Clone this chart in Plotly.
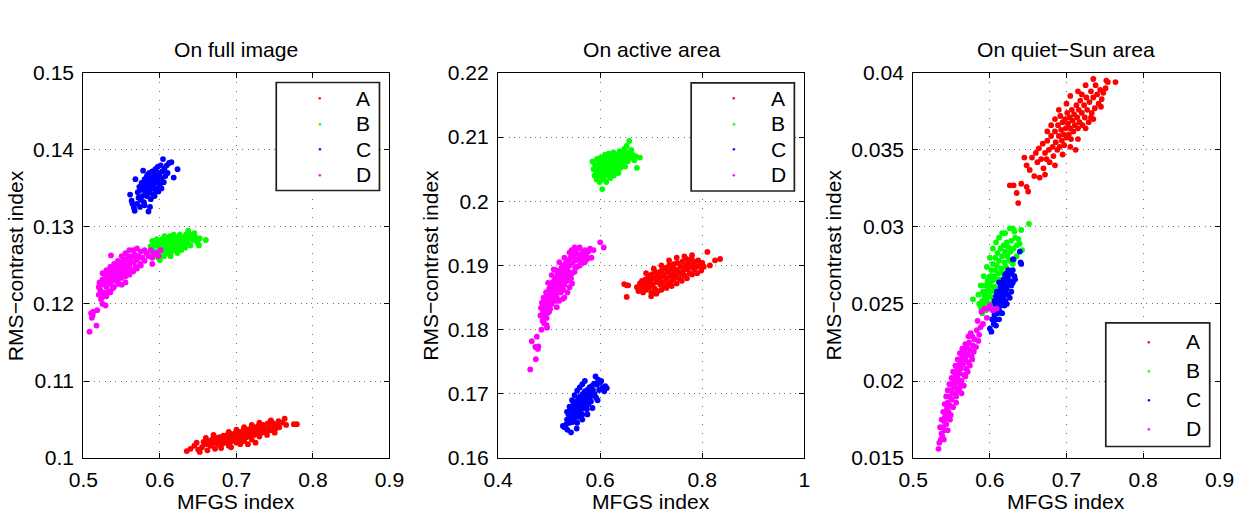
import plotly.graph_objects as go

# ---------------- data ----------------
series_names = ["A", "B", "C", "D"]
series_colors = ["#ff0000", "#00ff00", "#0000ff", "#ff00ff"]
panel_titles = ["On full image", "On active area", "On quiet\u2212Sun area"]
x_label = "MFGS index"
y_label = "RMS\u2212contrast index"

# Panel 1: on full image
full_A = [(0.635,0.1009),(0.640,0.1012),(0.645,0.1016),(0.648,0.1020),(0.650,0.1011),(0.652,0.1008),(0.655,0.1014),(0.657,0.1021),(0.660,0.1018),(0.662,0.1010),(0.664,0.1022),(0.666,0.1016),(0.668,0.1024),(0.670,0.1019),(0.672,0.1012),(0.673,0.1026),(0.675,0.1021),(0.677,0.1017),(0.678,0.1027),(0.680,0.1023),(0.682,0.1019),(0.683,0.1029),(0.685,0.1024),(0.687,0.1020),(0.688,0.1030),(0.690,0.1025),(0.692,0.1021),(0.693,0.1014),(0.694,0.1031),(0.696,0.1026),(0.698,0.1022),(0.699,0.1033),(0.701,0.1028),(0.703,0.1024),(0.704,0.1034),(0.706,0.1029),(0.708,0.1025),(0.709,0.1036),(0.711,0.1031),(0.713,0.1027),(0.714,0.1037),(0.716,0.1032),(0.718,0.1028),(0.719,0.1039),(0.721,0.1034),(0.723,0.1030),(0.724,0.1040),(0.726,0.1035),(0.728,0.1031),(0.729,0.1042),(0.731,0.1037),(0.733,0.1033),(0.735,0.1043),(0.737,0.1038),(0.739,0.1034),(0.741,0.1045),(0.743,0.1040),(0.745,0.1036),(0.747,0.1046),(0.749,0.1041),(0.751,0.1038),(0.753,0.1044),(0.756,0.1040),(0.760,0.1046),(0.763,0.1051),(0.765,0.1043),(0.775,0.1044),(0.779,0.1044),(0.705,0.1018),
          (0.680,0.1013),(0.690,0.1016),(0.700,0.1020),(0.710,0.1022),(0.720,0.1024),(0.730,0.1028),(0.740,0.1030),(0.750,0.1033),(0.690,0.1034),(0.700,0.1037),(0.710,0.1040),(0.720,0.1043),(0.730,0.1046),(0.745,0.1049),(0.755,0.1048),(0.670,0.1030),(0.660,0.1026),(0.715,0.1018),(0.725,0.1020)]
full_B = [(0.586,0.1265),(0.588,0.1275),(0.590,0.1282),(0.591,0.1270),(0.592,0.1262),(0.594,0.1276),(0.595,0.1268),(0.597,0.1280),(0.598,0.1260),(0.599,0.1272),(0.600,0.1257),(0.601,0.1278),(0.602,0.1266),(0.603,0.1284),(0.604,0.1272),(0.605,0.1262),(0.606,0.1280),(0.607,0.1270),(0.608,0.1286),(0.609,0.1276),(0.610,0.1266),(0.611,0.1282),(0.612,0.1272),(0.613,0.1288),(0.614,0.1278),(0.615,0.1268),(0.616,0.1284),(0.617,0.1275),(0.618,0.1290),(0.619,0.1280),(0.620,0.1270),(0.621,0.1286),(0.622,0.1277),(0.623,0.1266),(0.624,0.1283),(0.625,0.1274),(0.626,0.1290),(0.627,0.1280),(0.628,0.1270),(0.629,0.1286),(0.630,0.1277),(0.632,0.1284),(0.633,0.1273),(0.634,0.1290),(0.636,0.1280),(0.637,0.1295),(0.638,0.1286),(0.640,0.1276),(0.641,0.1290),(0.643,0.1283),(0.645,0.1292),(0.647,0.1286),(0.649,0.1280),(0.651,0.1276),(0.652,0.1285),(0.660,0.1283),(0.614,0.1262),(0.606,0.1288),(0.596,0.1284)]
full_C = [(0.561,0.1342),(0.563,0.1334),(0.564,0.1330),(0.566,0.1325),(0.567,0.1321),(0.568,0.1362),(0.570,0.1330),(0.571,0.1345),(0.572,0.1338),(0.573,0.1352),(0.574,0.1326),(0.575,0.1348),(0.576,0.1357),(0.577,0.1340),(0.578,0.1373),(0.578,0.1350),(0.579,0.1332),(0.580,0.1362),(0.581,0.1345),(0.582,0.1355),(0.583,0.1366),(0.583,0.1340),(0.584,0.1350),(0.585,0.1320),(0.585,0.1360),(0.586,0.1370),(0.586,0.1345),(0.587,0.1355),(0.588,0.1336),(0.588,0.1364),(0.589,0.1350),(0.590,0.1358),(0.590,0.1372),(0.591,0.1342),(0.592,0.1362),(0.592,0.1352),(0.593,0.1368),(0.594,0.1346),(0.594,0.1375),(0.595,0.1358),(0.596,0.1365),(0.596,0.1350),(0.597,0.1378),(0.598,0.1360),(0.599,0.1370),(0.600,0.1355),(0.600,0.1365),(0.601,0.1380),(0.602,0.1362),(0.603,0.1372),(0.604,0.1388),(0.605,0.1358),(0.606,0.1376),(0.607,0.1366),(0.609,0.1380),(0.610,0.1370),(0.612,0.1383),(0.615,0.1384),(0.618,0.1364),(0.623,0.1375),(0.575,0.1335),(0.580,0.1328),(0.587,0.1326),(0.598,0.1346),(0.584,0.1368),(0.579,0.1355),(0.593,0.1340),(0.602,0.1350)]
full_D = [(0.508,0.1164),(0.510,0.1188),(0.511,0.1182),(0.512,0.1185),(0.513,0.1190),(0.517,0.1172),(0.518,0.1192),(0.520,0.1222),(0.520,0.1212),(0.521,0.1228),(0.522,0.1218),(0.523,0.1206),(0.524,0.1225),(0.525,0.1232),(0.526,0.1215),(0.527,0.1210),(0.528,0.1228),(0.529,0.1198),(0.529,0.1236),(0.530,0.1222),(0.531,0.1230),(0.532,0.1240),(0.533,0.1216),(0.534,0.1234),(0.535,0.1226),(0.536,0.1263),(0.536,0.1242),(0.537,0.1232),(0.538,0.1220),(0.539,0.1238),(0.540,0.1246),(0.541,0.1230),(0.542,0.1240),(0.543,0.1250),(0.544,0.1235),(0.545,0.1244),(0.546,0.1226),(0.547,0.1252),(0.548,0.1240),(0.549,0.1246),(0.550,0.1234),(0.551,0.1255),(0.552,0.1244),(0.553,0.1250),(0.554,0.1238),(0.555,0.1258),(0.556,0.1246),(0.557,0.1252),(0.558,0.1240),(0.559,0.1262),(0.560,0.1250),(0.562,0.1256),(0.563,0.1244),(0.564,0.1262),(0.566,0.1254),(0.567,0.1264),(0.568,0.1248),(0.570,0.1272),(0.570,0.1258),(0.572,0.1262),(0.574,0.1252),(0.575,0.1268),(0.577,0.1260),(0.580,0.1256),(0.582,0.1266),(0.585,0.1262),(0.588,0.1270),(0.590,0.1260),(0.592,0.1266),(0.596,0.1266),(0.601,0.1270),(0.598,0.1262),(0.555,0.1236),
          (0.525,0.1200),(0.530,0.1210),(0.535,0.1215),(0.540,0.1222),(0.545,0.1230),(0.550,0.1225),(0.555,0.1228),(0.560,0.1238),(0.565,0.1242),(0.570,0.1246),(0.545,0.1256),(0.550,0.1262),(0.555,0.1266),(0.560,0.1270),(0.540,0.1252),(0.535,0.1248),(0.530,0.1244),(0.525,0.1240),(0.575,0.1250),(0.580,0.1270),(0.565,0.1270),(0.590,0.1252)]

# Panel 2: on active area
active_A = [(0.647,0.1871),(0.652,0.1869),(0.655,0.1869),(0.652,0.1851),(0.672,0.1866),(0.675,0.1860),(0.678,0.1872),(0.680,0.1864),(0.682,0.1876),(0.684,0.1858),(0.686,0.1868),(0.688,0.1878),(0.690,0.1862),(0.692,0.1872),(0.694,0.1882),(0.696,0.1866),(0.698,0.1876),(0.700,0.1858),(0.701,0.1886),(0.703,0.1870),(0.705,0.1880),(0.707,0.1864),(0.708,0.1890),(0.710,0.1874),(0.712,0.1884),(0.713,0.1860),(0.715,0.1878),(0.717,0.1890),(0.718,0.1870),(0.720,0.1882),(0.722,0.1894),(0.723,0.1874),(0.725,0.1886),(0.727,0.1866),(0.728,0.1896),(0.730,0.1880),(0.732,0.1890),(0.733,0.1872),(0.735,0.1900),(0.737,0.1884),(0.739,0.1894),(0.740,0.1876),(0.742,0.1888),(0.744,0.1902),(0.745,0.1880),(0.747,0.1894),(0.749,0.1886),(0.751,0.1904),(0.753,0.1890),(0.755,0.1880),(0.757,0.1898),(0.759,0.1888),(0.761,0.1906),(0.763,0.1892),(0.765,0.1884),(0.767,0.1900),(0.769,0.1910),(0.771,0.1894),(0.773,0.1904),(0.775,0.1888),(0.777,0.1898),(0.779,0.1910),(0.781,0.1902),(0.784,0.1894),(0.786,0.1906),(0.789,0.1898),(0.792,0.1908),(0.795,0.1900),(0.798,0.1892),(0.800,0.1904),(0.803,0.1898),(0.810,0.1921),(0.815,0.1900),(0.825,0.1908),(0.835,0.1910),
            (0.700,0.1852),(0.710,0.1856),(0.720,0.1862),(0.730,0.1865),(0.740,0.1868),(0.750,0.1872),(0.760,0.1876),(0.770,0.1880),(0.780,0.1886),(0.790,0.1888),(0.720,0.1900),(0.735,0.1908),(0.750,0.1912),(0.765,0.1914),(0.780,0.1916),(0.690,0.1888),(0.705,0.1895)]
active_B = [(0.585,0.2062),(0.587,0.2050),(0.589,0.2040),(0.590,0.2057),(0.592,0.2046),(0.593,0.2034),(0.594,0.2066),(0.595,0.2052),(0.597,0.2042),(0.598,0.2060),(0.599,0.2030),(0.600,0.2048),(0.601,0.2068),(0.602,0.2038),(0.603,0.2056),(0.604,0.2019),(0.605,0.2046),(0.606,0.2064),(0.607,0.2034),(0.608,0.2052),(0.609,0.2072),(0.610,0.2042),(0.611,0.2060),(0.612,0.2030),(0.613,0.2050),(0.614,0.2068),(0.615,0.2040),(0.616,0.2058),(0.617,0.2074),(0.618,0.2046),(0.619,0.2064),(0.620,0.2036),(0.621,0.2054),(0.622,0.2070),(0.623,0.2044),(0.624,0.2062),(0.625,0.2050),(0.626,0.2076),(0.627,0.2040),(0.628,0.2058),(0.629,0.2068),(0.630,0.2048),(0.632,0.2064),(0.633,0.2054),(0.634,0.2072),(0.636,0.2044),(0.637,0.2060),(0.638,0.2078),(0.640,0.2052),(0.641,0.2068),(0.643,0.2058),(0.644,0.2076),(0.646,0.2064),(0.648,0.2082),(0.649,0.2054),(0.650,0.2070),(0.652,0.2086),(0.654,0.2062),(0.655,0.2076),(0.657,0.2094),(0.659,0.2068),(0.661,0.2080),(0.664,0.2072),(0.667,0.2064),(0.670,0.2070),(0.672,0.2052),(0.678,0.2068)]
active_C = [(0.527,0.1650),(0.530,0.1648),(0.533,0.1652),(0.535,0.1660),(0.536,0.1644),(0.538,0.1668),(0.540,0.1655),(0.541,0.1672),(0.542,0.1662),(0.543,0.1640),(0.544,0.1676),(0.545,0.1666),(0.546,0.1656),(0.547,0.1682),(0.548,0.1670),(0.549,0.1660),(0.550,0.1678),(0.551,0.1688),(0.552,0.1666),(0.553,0.1674),(0.554,0.1646),(0.555,0.1684),(0.556,0.1670),(0.557,0.1692),(0.558,0.1678),(0.559,0.1664),(0.560,0.1686),(0.561,0.1696),(0.562,0.1674),(0.563,0.1682),(0.564,0.1692),(0.565,0.1668),(0.566,0.1700),(0.567,0.1686),(0.568,0.1678),(0.569,0.1694),(0.570,0.1704),(0.571,0.1684),(0.572,0.1690),(0.573,0.1698),(0.574,0.1676),(0.575,0.1706),(0.576,0.1692),(0.577,0.1684),(0.578,0.1700),(0.579,0.1710),(0.580,0.1694),(0.581,0.1702),(0.582,0.1688),(0.583,0.1712),(0.585,0.1698),(0.586,0.1706),(0.588,0.1716),(0.589,0.1700),(0.591,0.1727),(0.592,0.1694),(0.594,0.1714),(0.596,0.1722),(0.598,0.1706),(0.600,0.1718),(0.602,0.1720),(0.605,0.1710),(0.608,0.1704),(0.610,0.1712),(0.613,0.1709),
            (0.545,0.1690),(0.550,0.1698),(0.555,0.1705),(0.560,0.1710),(0.565,0.1715),(0.570,0.1720),(0.555,0.1655),(0.565,0.1660),(0.575,0.1668),(0.585,0.1678),(0.595,0.1690),(0.540,0.1680),(0.535,0.1672)]
active_D = [(0.463,0.1738),(0.466,0.1782),(0.474,0.1754),(0.473,0.1773),(0.476,0.1789),(0.479,0.1774),(0.478,0.1770),(0.483,0.1822),(0.484,0.1834),(0.486,0.1842),(0.487,0.1814),(0.488,0.1828),(0.489,0.1850),(0.490,0.1836),(0.491,0.1822),(0.492,0.1846),(0.493,0.1832),(0.494,0.1858),(0.495,0.1807),(0.496,0.1803),(0.496,0.1842),(0.497,0.1826),(0.498,0.1852),(0.499,0.1838),(0.500,0.1864),(0.501,0.1846),(0.502,0.1832),(0.503,0.1858),(0.504,0.1868),(0.505,0.1848),(0.506,0.1862),(0.507,0.1874),(0.508,0.1852),(0.509,0.1894),(0.510,0.1866),(0.511,0.1878),(0.512,0.1856),(0.513,0.1870),(0.514,0.1882),(0.515,0.1862),(0.516,0.1876),(0.517,0.1888),(0.518,0.1868),(0.519,0.1880),(0.520,0.1892),(0.521,0.1872),(0.522,0.1884),(0.523,0.1858),(0.524,0.1896),(0.525,0.1878),(0.526,0.1888),(0.527,0.1848),(0.528,0.1900),(0.530,0.1882),(0.531,0.1892),(0.533,0.1904),(0.534,0.1886),(0.535,0.1896),(0.536,0.1858),(0.537,0.1908),(0.539,0.1890),(0.540,0.1900),(0.542,0.1912),(0.543,0.1880),(0.544,0.1924),(0.546,0.1904),(0.547,0.1914),(0.549,0.1922),(0.551,0.1896),(0.552,0.1908),(0.554,0.1918),(0.556,0.1926),(0.558,0.1910),(0.560,0.1916),(0.563,0.1904),(0.565,0.1920),(0.568,0.1912),(0.570,0.1924),(0.573,0.1916),(0.577,0.1922),(0.580,0.1926),(0.583,0.1912),(0.587,0.1924),(0.600,0.1936),(0.607,0.1928),
            (0.505,0.1840),(0.510,0.1845),(0.515,0.1850),(0.520,0.1858),(0.525,0.1865),(0.530,0.1870),(0.535,0.1876),(0.540,0.1882),(0.545,0.1888),(0.550,0.1890),(0.555,0.1898),(0.560,0.1900),(0.565,0.1908),(0.570,0.1905),(0.575,0.1910),(0.515,0.1835),(0.520,0.1845),(0.530,0.1850),(0.540,0.1866),(0.545,0.1872),(0.500,0.1828),(0.495,0.1818),(0.490,0.1810),(0.485,0.1800),(0.498,0.1873),(0.505,0.1885),(0.512,0.1893),(0.520,0.1905),(0.530,0.1912),(0.540,0.1920),(0.550,0.1928),(0.560,0.1928),(0.528,0.1862),(0.515,0.1845)]

# Panel 3: on quiet-Sun area
quiet_A = [(0.626,0.0327),(0.631,0.0327),(0.635,0.0322),(0.637,0.03155),(0.641,0.0328),(0.648,0.0326),(0.650,0.0323),(0.645,0.0345),(0.648,0.0340),(0.652,0.0337),(0.655,0.0345),(0.658,0.0333),(0.660,0.0348),(0.662,0.0342),(0.664,0.0351),(0.665,0.0332),(0.667,0.0344),(0.669,0.0354),(0.670,0.0338),(0.672,0.0348),(0.674,0.0344),(0.675,0.0356),(0.677,0.0350),(0.678,0.0342),(0.680,0.0359),(0.682,0.0352),(0.683,0.0346),(0.685,0.0362),(0.686,0.0355),(0.688,0.0350),(0.689,0.0366),(0.690,0.0359),(0.691,0.0352),(0.692,0.0372),(0.693,0.0363),(0.694,0.0356),(0.695,0.0368),(0.696,0.0360),(0.697,0.0353),(0.698,0.0370),(0.699,0.0364),(0.700,0.0358),(0.701,0.0374),(0.702,0.0367),(0.703,0.0360),(0.704,0.0371),(0.705,0.0364),(0.706,0.0357),(0.707,0.0376),(0.708,0.0369),(0.709,0.0362),(0.710,0.0373),(0.711,0.0366),(0.712,0.0350),(0.713,0.0379),(0.714,0.0371),(0.715,0.0364),(0.716,0.0376),(0.717,0.0368),(0.718,0.0382),(0.720,0.0374),(0.721,0.0366),(0.723,0.0379),(0.724,0.0371),(0.726,0.0384),(0.727,0.0376),(0.729,0.0368),(0.730,0.0381),(0.732,0.0388),(0.733,0.0374),(0.735,0.0384),(0.737,0.0377),(0.738,0.0392),(0.740,0.0386),(0.742,0.0380),(0.744,0.0389),(0.746,0.0383),(0.748,0.0387),(0.752,0.0395),(0.754,0.0394),(0.764,0.0394),(0.751,0.0390),(0.732,0.0371),
           (0.675,0.0362),(0.680,0.0366),(0.685,0.0370),(0.690,0.0376),(0.700,0.0380),(0.705,0.0385),(0.715,0.0388),(0.725,0.0392),(0.735,0.0396),(0.745,0.0378),(0.735,0.0370),(0.725,0.0364),(0.715,0.0357),(0.705,0.0352),(0.695,0.0347),(0.685,0.0340),(0.720,0.0386),(0.672,0.0334)]
quiet_B = [(0.578,0.0253),(0.588,0.0248),(0.590,0.0244),(0.590,0.0252),(0.591,0.0258),(0.592,0.0249),(0.593,0.0255),(0.594,0.0262),(0.595,0.0246),(0.595,0.0258),(0.596,0.0252),(0.597,0.0265),(0.597,0.0249),(0.598,0.0260),(0.599,0.0255),(0.600,0.0268),(0.600,0.0262),(0.601,0.0250),(0.602,0.0272),(0.602,0.0258),(0.603,0.0265),(0.604,0.0254),(0.604,0.0276),(0.605,0.0268),(0.606,0.0261),(0.607,0.0272),(0.607,0.0280),(0.608,0.0266),(0.609,0.0275),(0.610,0.0260),(0.610,0.0283),(0.611,0.0270),(0.612,0.0278),(0.613,0.0266),(0.614,0.0286),(0.615,0.0273),(0.616,0.0281),(0.617,0.0270),(0.618,0.0288),(0.619,0.0277),(0.620,0.0284),(0.621,0.0274),(0.622,0.0290),(0.623,0.0281),(0.624,0.0287),(0.625,0.0278),(0.626,0.0299),(0.627,0.0284),(0.628,0.0291),(0.630,0.0299),(0.631,0.0286),(0.633,0.0293),(0.635,0.0288),(0.637,0.0292),(0.639,0.0289),(0.641,0.0298),(0.642,0.0285),(0.651,0.0302),
           (0.585,0.0256),(0.588,0.0262),(0.592,0.0268),(0.596,0.0274),(0.600,0.0280),(0.604,0.0286),(0.608,0.0290),(0.612,0.0293),(0.616,0.0296),(0.620,0.0296),(0.605,0.0250),(0.610,0.0255),(0.615,0.0262),(0.620,0.0268),(0.625,0.0272),(0.630,0.0276),(0.635,0.0281),(0.586,0.0250),(0.632,0.0297)]
quiet_C = [(0.600,0.0234),(0.602,0.0232),(0.603,0.0240),(0.604,0.0246),(0.605,0.0237),(0.606,0.0243),(0.607,0.0250),(0.608,0.0240),(0.609,0.0247),(0.610,0.0254),(0.610,0.0244),(0.611,0.0250),(0.612,0.0258),(0.612,0.0246),(0.613,0.0253),(0.614,0.0261),(0.614,0.0249),(0.615,0.0256),(0.616,0.0264),(0.616,0.0252),(0.617,0.0259),(0.618,0.0266),(0.618,0.0255),(0.619,0.0262),(0.620,0.0269),(0.620,0.0258),(0.621,0.0265),(0.622,0.0270),(0.622,0.0260),(0.623,0.0267),(0.624,0.0272),(0.624,0.0263),(0.625,0.0269),(0.626,0.0265),(0.627,0.0271),(0.628,0.0262),(0.630,0.0279),(0.631,0.0279),(0.639,0.0284),(0.640,0.0277),(0.641,0.0276),(0.608,0.0255),(0.619,0.0249),
           (0.620,0.0252),(0.624,0.0256),(0.628,0.0258),(0.630,0.0264),(0.632,0.0268),(0.628,0.0270),(0.630,0.0272),(0.612,0.0240),(0.616,0.0244),(0.608,0.0236),(0.622,0.0250),(0.626,0.0254),(0.633,0.0266),(0.606,0.0252),(0.609,0.0258),(0.612,0.0264)]
quiet_D = [(0.533,0.0156),(0.534,0.0160),(0.536,0.0162),(0.537,0.0166),(0.538,0.0164),(0.539,0.0170),(0.540,0.0174),(0.541,0.0168),(0.542,0.0178),(0.543,0.0172),(0.544,0.0182),(0.545,0.0176),(0.545,0.0186),(0.546,0.0180),(0.547,0.0190),(0.548,0.0184),(0.549,0.0194),(0.550,0.0188),(0.551,0.0198),(0.552,0.0192),(0.553,0.0201),(0.554,0.0196),(0.555,0.0204),(0.556,0.0190),(0.556,0.0199),(0.557,0.0207),(0.558,0.0202),(0.559,0.0210),(0.560,0.0195),(0.560,0.0205),(0.561,0.0213),(0.562,0.0208),(0.563,0.0200),(0.564,0.0216),(0.565,0.0211),(0.566,0.0204),(0.567,0.0219),(0.568,0.0214),(0.569,0.0208),(0.570,0.0222),(0.571,0.0217),(0.572,0.0212),(0.573,0.0225),(0.574,0.0220),(0.576,0.0216),(0.577,0.0229),(0.578,0.0223),(0.580,0.0227),(0.583,0.0233),(0.586,0.0230),(0.591,0.0237),(0.589,0.0245),(0.593,0.0247),(0.598,0.0247),(0.600,0.0249),(0.604,0.0246),(0.609,0.0247),(0.549,0.0178),(0.541,0.0176),
           (0.540,0.0162),(0.545,0.0168),(0.548,0.0175),(0.552,0.0183),(0.556,0.0186),(0.557,0.0193),(0.561,0.0198),(0.563,0.0192),(0.566,0.0197),(0.568,0.0203),(0.571,0.0206),(0.574,0.0210),(0.577,0.0214),(0.579,0.0219),(0.582,0.0222),(0.575,0.0231),(0.572,0.0229),(0.568,0.0224),(0.564,0.0221),(0.561,0.0218),(0.558,0.0214),(0.555,0.0210),(0.552,0.0206),(0.550,0.0202),(0.547,0.0198),(0.545,0.0194),(0.543,0.0190),(0.541,0.0185),(0.539,0.0180),(0.537,0.0175),(0.535,0.0170),(0.585,0.0226),(0.588,0.0235),(0.584,0.0239),(0.596,0.0241)]

panel_data = [
    [full_A, full_B, full_C, full_D],
    [active_A, active_B, active_C, active_D],
    [quiet_A, quiet_B, quiet_C, quiet_D],
]

# axis ranges and tick labels
x_ranges = [(0.5, 0.9), (0.4, 1.0), (0.5, 0.9)]
x_tickvals = [[0.5, 0.6, 0.7, 0.8, 0.9], [0.4, 0.6, 0.8, 1.0], [0.5, 0.6, 0.7, 0.8, 0.9]]
x_ticktext = [["0.5", "0.6", "0.7", "0.8", "0.9"], ["0.4", "0.6", "0.8", "1"], ["0.5", "0.6", "0.7", "0.8", "0.9"]]
y_ranges = [(0.10, 0.15), (0.16, 0.22), (0.015, 0.04)]
y_tickvals = [[0.10, 0.11, 0.12, 0.13, 0.14, 0.15],
              [0.16, 0.17, 0.18, 0.19, 0.20, 0.21, 0.22],
              [0.015, 0.020, 0.025, 0.030, 0.035, 0.040]]
y_ticktext = [["0.1", "0.11", "0.12", "0.13", "0.14", "0.15"],
              ["0.16", "0.17", "0.18", "0.19", "0.2", "0.21", "0.22"],
              ["0.015", "0.02", "0.025", "0.03", "0.035", "0.04"]]

# ---------------- layout geometry (target picture pixels) ----------------
plot_left = [82.7, 497.7, 913.3]
plot_right = [389.0, 804.3, 1220.0]
plot_top, plot_bottom = 72.0, 458.3
# legend boxes: (left, top, right, bottom, row pitch, first row y)
legend_boxes = [(275.7, 81.7, 379.0, 190.0, 25.5, 97.7),
                (691.0, 82.0, 794.3, 190.5, 25.5, 97.7),
                (1106.0, 322.7, 1210.0, 446.7, 29.0, 341.7)]
y_title_x = [15.0, 430.0, 833.0]

# observed mapping from figure pixels to picture pixels: picture = offset + scale * figure
OX, SX = 14.2, 0.977
OY, SY = 11.0, 0.960
FW = int(round((1240 - OX) / SX))
FH = int(round((528 - OY) / SY))

FONT = "Liberation Sans, Arial, Helvetica, sans-serif"
FS = round(20.6 / SX, 1)


def fx(p):
    return ((p - OX) / SX) / FW


def fy(p):
    return 1 - ((p - OY) / SY) / FH


fig = go.Figure()
layout = dict(
    width=FW, height=FH, autosize=False,
    margin=dict(l=0, r=0, t=0, b=0, pad=0),
    paper_bgcolor="white", plot_bgcolor="white",
    showlegend=False,
    font=dict(family=FONT, size=FS, color="black"),
)

annotations = []
shapes = []

for i in range(3):
    xa = "x" if i == 0 else f"x{i+1}"
    ya = "y" if i == 0 else f"y{i+1}"
    for s in range(4):
        pts = panel_data[i][s]
        fig.add_trace(go.Scatter(
            x=[p[0] for p in pts], y=[p[1] for p in pts],
            mode="markers", name=series_names[s],
            marker=dict(color=series_colors[s], size=5.8, line=dict(width=0)),
            xaxis=xa, yaxis=ya,
        ))
    common = dict(
        showline=True, linecolor="black", linewidth=1.2, mirror="ticks",
        ticks="inside", ticklen=5, tickcolor="black", tickwidth=1,
        showgrid=True, gridcolor="#707070", gridwidth=1,
        zeroline=False, tickfont=dict(size=FS, color="black", family=FONT),
        tickmode="array",
    )
    xkey = "xaxis" if i == 0 else f"xaxis{i+1}"
    ykey = "yaxis" if i == 0 else f"yaxis{i+1}"
    layout[xkey] = dict(common, domain=[fx(plot_left[i]), min(1.0, fx(plot_right[i]))],
                        range=list(x_ranges[i]), tickvals=x_tickvals[i],
                        ticktext=x_ticktext[i], anchor=ya, ticklabelstandoff=3,
                        griddash="1px,8px")
    layout[ykey] = dict(common, domain=[fy(plot_bottom), fy(plot_top)],
                        range=list(y_ranges[i]), tickvals=y_tickvals[i],
                        ticktext=y_ticktext[i], anchor=xa, ticklabelstandoff=4,
                        griddash="1px,4.3px")

    cx = (plot_left[i] + plot_right[i]) / 2
    # panel title
    annotations.append(dict(text=panel_titles[i], x=fx(cx), y=fy(49), xref="paper", yref="paper",
                            showarrow=False, xanchor="center", yanchor="middle",
                            font=dict(size=FS, family=FONT, color="black")))
    # x axis title
    annotations.append(dict(text=x_label, x=fx(cx), y=fy(502), xref="paper", yref="paper",
                            showarrow=False, xanchor="center", yanchor="middle",
                            font=dict(size=FS, family=FONT, color="black")))
    # y axis title
    annotations.append(dict(text=y_label, x=fx(y_title_x[i]), y=fy((plot_top + plot_bottom) / 2),
                            xref="paper", yref="paper", showarrow=False, textangle=-90,
                            xanchor="center", yanchor="middle",
                            font=dict(size=FS, family=FONT, color="black")))
    # legend box
    l, t, r, b, pitch, y0 = legend_boxes[i]
    shapes.append(dict(type="rect", xref="paper", yref="paper",
                       x0=fx(l), x1=fx(r), y0=fy(b), y1=fy(t),
                       line=dict(color="#202020", width=1.7), fillcolor="white", layer="above"))
    for s in range(4):
        ry = y0 + s * pitch
        annotations.append(dict(text="\u25CF", x=fx(l + 43.3), y=fy(ry), xref="paper", yref="paper",
                                showarrow=False, xanchor="center", yanchor="middle",
                                font=dict(size=6, color=series_colors[s], family=FONT)))
        annotations.append(dict(text=series_names[s], x=fx(l + 87.3), y=fy(ry), xref="paper", yref="paper",
                                showarrow=False, xanchor="center", yanchor="middle",
                                font=dict(size=FS, color="black", family=FONT)))

layout["annotations"] = annotations
layout["shapes"] = shapes
fig.update_layout(**layout)
fig.write_html("out.html")
